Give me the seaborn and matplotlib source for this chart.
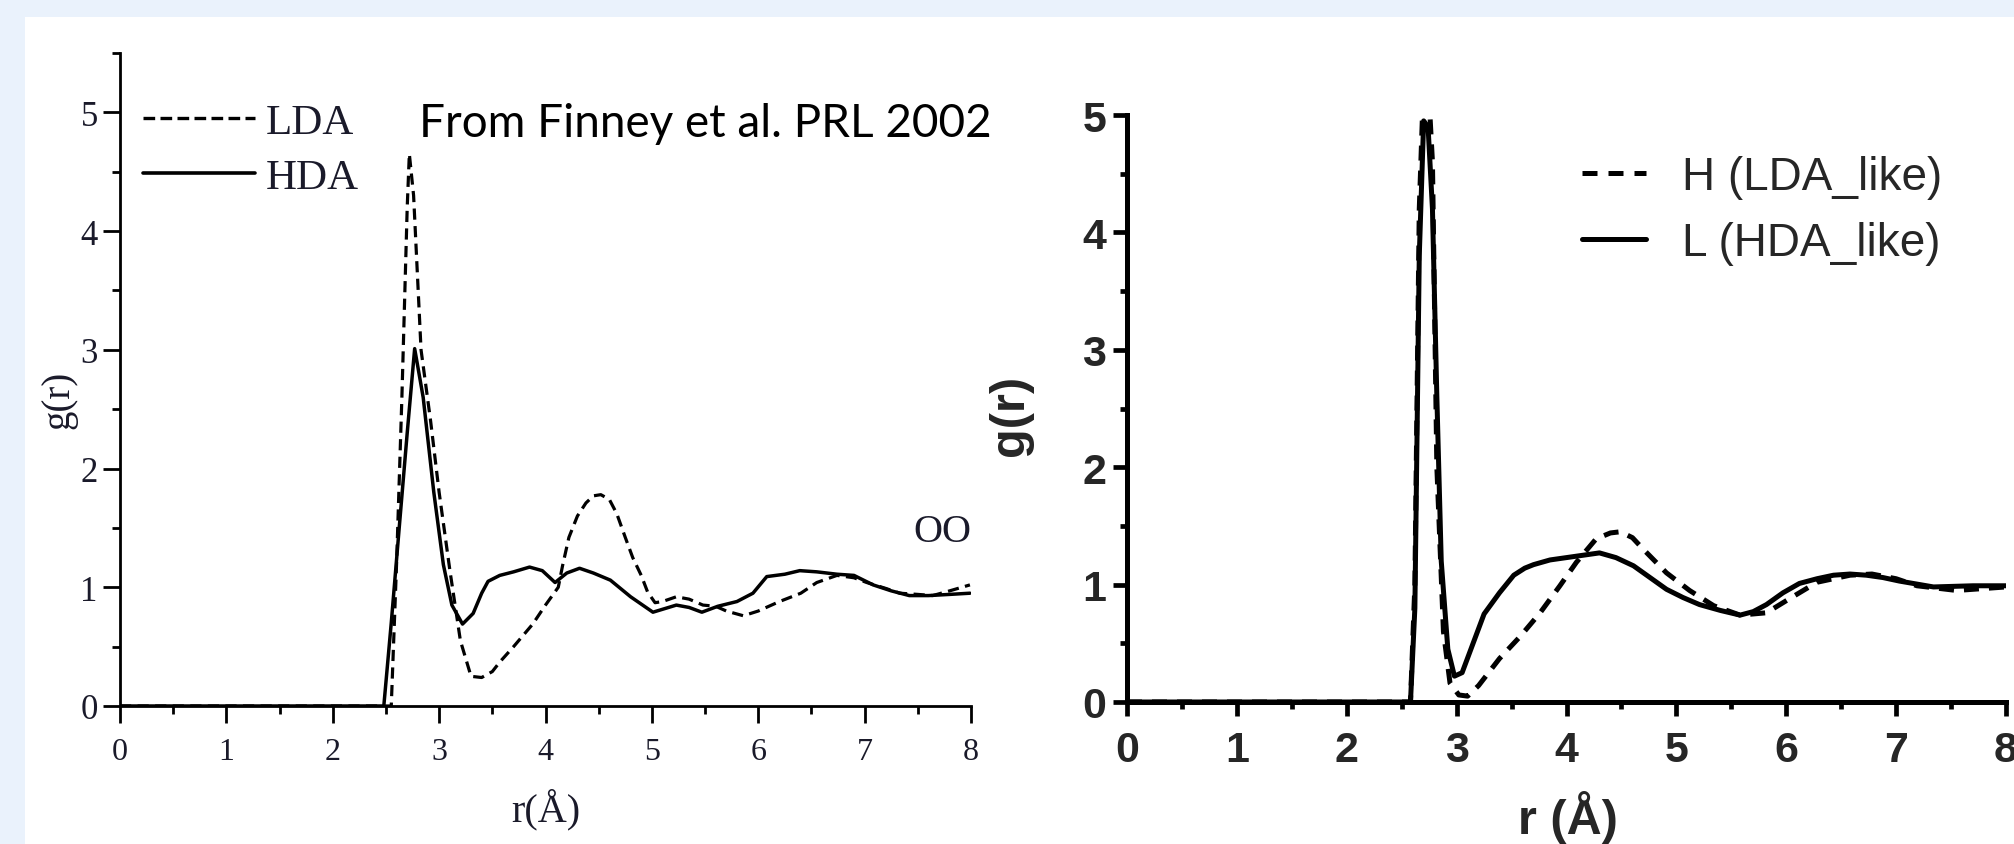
import numpy as np
import pandas as pd
import matplotlib
matplotlib.use("Agg")
import matplotlib.pyplot as plt
import seaborn as sns
from matplotlib.ticker import MultipleLocator
from matplotlib.lines import Line2D
from matplotlib.patches import Rectangle

# ---- Finney et al. (2002) O-O radial distribution functions ----
r_lda = [0, 2.55, 2.60, 2.65, 2.70, 2.72, 2.76, 2.83, 2.92, 3.00, 3.10, 3.20, 3.30,
         3.40, 3.50, 3.57, 3.70, 3.88, 4.00, 4.12, 4.16, 4.22, 4.30, 4.38, 4.45,
         4.52, 4.60, 4.67, 4.75, 4.82, 4.90, 4.96, 5.03, 5.10, 5.23, 5.35, 5.48,
         5.60, 5.70, 5.86, 6.00, 6.20, 6.40, 6.55, 6.74, 6.90, 7.02, 7.20, 7.33,
         7.50, 7.64, 7.80, 7.99]
g_lda = [0, 0, 1.2, 2.6, 4.2, 4.65, 4.3, 3.0, 2.4, 1.8, 1.15, 0.55, 0.25,
         0.24, 0.29, 0.37, 0.50, 0.69, 0.85, 1.00, 1.18, 1.42, 1.60, 1.71, 1.77,
         1.78, 1.74, 1.62, 1.42, 1.25, 1.10, 0.96, 0.87, 0.88, 0.92, 0.90, 0.85,
         0.84, 0.80, 0.76, 0.80, 0.88, 0.95, 1.04, 1.10, 1.08, 1.04, 0.99, 0.95,
         0.94, 0.93, 0.97, 1.02]

r_hda = [0, 2.48, 2.55, 2.62, 2.70, 2.77, 2.85, 2.95, 3.04, 3.12, 3.22, 3.32,
         3.40, 3.46, 3.57, 3.70, 3.85, 3.97, 4.09, 4.20, 4.32, 4.45, 4.61, 4.80,
         5.01, 5.12, 5.23, 5.35, 5.47, 5.62, 5.80, 5.95, 6.08, 6.25, 6.39, 6.55,
         6.74, 6.90, 7.08, 7.25, 7.42, 7.60, 7.80, 7.99]
g_hda = [0, 0, 0.7, 1.45, 2.3, 3.01, 2.6, 1.8, 1.19, 0.85, 0.69, 0.78,
         0.95, 1.05, 1.10, 1.13, 1.17, 1.14, 1.04, 1.12, 1.16, 1.12, 1.06, 0.92,
         0.79, 0.82, 0.85, 0.83, 0.79, 0.84, 0.88, 0.95, 1.09, 1.11, 1.14, 1.13,
         1.11, 1.10, 1.02, 0.97, 0.93, 0.93, 0.94, 0.95]

# ---- simulation: H (LDA-like) and L (HDA-like) ----
r_h = [0, 2.58, 2.62, 2.66, 2.70, 2.74, 2.78, 2.82, 2.88, 2.94, 3.02, 3.10,
       3.20, 3.39, 3.58, 3.76, 3.94, 4.09, 4.27, 4.40, 4.49, 4.60, 4.70, 4.91,
       5.12, 5.34, 5.58, 5.82, 6.03, 6.28, 6.58, 6.78, 7.00, 7.19, 7.55, 8.00]
g_h = [0, 0, 1.0, 4.2, 5.3, 5.3, 4.6, 2.0, 0.6, 0.16, 0.06, 0.05,
       0.14, 0.37, 0.56, 0.76, 0.99, 1.19, 1.39, 1.44, 1.45, 1.40, 1.30, 1.10,
       0.95, 0.82, 0.74, 0.76, 0.88, 1.02, 1.08, 1.09, 1.05, 0.99, 0.95, 0.98]

r_l = [0, 2.58, 2.62, 2.66, 2.70, 2.74, 2.78, 2.82, 2.86, 2.92, 2.98, 3.05,
       3.15, 3.25, 3.39, 3.52, 3.62, 3.70, 3.85, 4.00, 4.15, 4.30, 4.45, 4.61,
       4.76, 4.91, 5.06, 5.21, 5.40, 5.58, 5.70, 5.82, 5.97, 6.12, 6.28, 6.43,
       6.58, 6.73, 6.88, 7.03, 7.34, 7.70, 8.00]
g_l = [0, 0, 0.8, 3.8, 4.95, 4.9, 4.2, 2.6, 1.2, 0.45, 0.22, 0.25,
       0.50, 0.75, 0.93, 1.08, 1.14, 1.17, 1.21, 1.23, 1.25, 1.27, 1.23, 1.16,
       1.06, 0.96, 0.89, 0.83, 0.78, 0.74, 0.77, 0.83, 0.93, 1.01, 1.05, 1.08,
       1.09, 1.08, 1.06, 1.03, 0.98, 0.99, 0.99]

x_ticks = [0, 1, 2, 3, 4, 5, 6, 7, 8]

sns.set_style("white")
plt.rcParams["font.family"] = ["DejaVu Sans"]

W, H = 2014, 845
fig = plt.figure(figsize=(W / 100, H / 100), dpi=100, facecolor="#EAF2FC")
# white sheet behind both panels
fig.patches.append(Rectangle((25 / W, 0), 1 - 25 / W, 1 - 18 / H,
                             transform=fig.transFigure, facecolor="white",
                             edgecolor="none", zorder=-10))


def px_axes(x0, x1, ybot, ytop):
    ax = fig.add_axes([x0 / W, 1 - ybot / H, (x1 - x0) / W, (ybot - ytop) / H])
    ax.set_zorder(1)
    return ax


serif = "Liberation Serif"
sans = "Liberation Sans"
ink = "#1a1a2a"

# ================= left panel =================
axL = px_axes(120, 971, 707, 54)
axL.set_facecolor("none")
sns.lineplot(x=r_lda, y=g_lda, ax=axL, color="black", lw=2.3,
             linestyle=(0, (3.5, 2.0)), label="LDA", legend=False)
sns.lineplot(x=r_hda, y=g_hda, ax=axL, color="black", lw=2.5,
             label="HDA", legend=False)
axL.set_xlim(0, 8)
axL.set_ylim(0, 5.5)
axL.xaxis.set_major_locator(MultipleLocator(1))
axL.xaxis.set_minor_locator(MultipleLocator(0.5))
axL.yaxis.set_major_locator(MultipleLocator(1))
axL.yaxis.set_minor_locator(MultipleLocator(0.5))
for s in ["top", "right"]:
    axL.spines[s].set_visible(False)
for s in ["left", "bottom"]:
    axL.spines[s].set_linewidth(2.0)
    axL.spines[s].set_color("black")
axL.tick_params(which="major", direction="out", length=12, width=2.0,
                color="black", left=True, bottom=True)
axL.tick_params(which="minor", direction="out", length=6, width=2.0,
                color="black", left=True, bottom=True)
axL.tick_params(axis="x", which="major", pad=10, labelsize=23, labelcolor=ink)
axL.tick_params(axis="y", which="major", pad=4, labelsize=25, labelcolor=ink)
axL.set_xticks(x_ticks)
for lab in axL.get_xticklabels() + axL.get_yticklabels():
    lab.set_family(serif)
axL.set_xlabel("r(Å)", fontsize=29, family=serif, color=ink)
axL.xaxis.set_label_coords(0.5, -0.125)
axL.set_ylabel("g(r)", fontsize=28, family=serif, color=ink)
axL.yaxis.set_label_coords(-0.050, 0.47)

hL = [Line2D([], [], color="black", lw=2.4, linestyle=(0, (3.5, 1.6))),
      Line2D([], [], color="black", lw=2.6)]
axL.legend(hL, ["LDA", "HDA"], loc="center left", frameon=False,
           bbox_to_anchor=(143 / W, 1 - 151 / H), bbox_transform=fig.transFigure,
           prop={"family": serif, "size": 31}, handlelength=2.6,
           handletextpad=0.25, labelspacing=0.36, borderpad=0, borderaxespad=0,
           labelcolor=ink)
fig.text(419 / W, 1 - 124 / H, "From Finney et al. PRL 2002", fontsize=33,
         family="Lato", color="black", ha="left", va="center", zorder=5)
fig.text(971 / W, 1 - 533 / H, "OO", fontsize=29, family=serif, color=ink,
         ha="right", va="center", zorder=5)

# ================= right panel =================
axR = px_axes(1127, 2006, 703, 116)
axR.set_facecolor("none")
sns.lineplot(x=r_h, y=g_h, ax=axR, color="black", lw=3.6,
             linestyle=(0, (3.0, 2.0)), label="H (LDA_like)", legend=False)
sns.lineplot(x=r_l, y=g_l, ax=axR, color="black", lw=3.6,
             label="L (HDA_like)", legend=False)
axR.set_xlim(0, 8)
axR.set_ylim(0, 5)
axR.xaxis.set_major_locator(MultipleLocator(1))
axR.xaxis.set_minor_locator(MultipleLocator(0.5))
axR.yaxis.set_major_locator(MultipleLocator(1))
axR.yaxis.set_minor_locator(MultipleLocator(0.5))
for s in ["top", "right"]:
    axR.spines[s].set_visible(False)
for s in ["left", "bottom"]:
    axR.spines[s].set_linewidth(3.6)
    axR.spines[s].set_color("black")
axR.tick_params(which="major", direction="out", length=10, width=3.4,
                color="black", left=True, bottom=True)
axR.tick_params(which="minor", direction="out", length=5, width=3.4,
                color="black", left=True, bottom=True)
axR.tick_params(axis="x", which="major", pad=10, labelsize=31)
axR.tick_params(axis="y", which="major", pad=5, labelsize=31)
axR.set_xticks(x_ticks)
for lab in axR.get_xticklabels() + axR.get_yticklabels():
    lab.set_family(sans)
    lab.set_weight("bold")
axR.set_xlabel("r (Å)", fontsize=35, family=sans, weight="bold")
axR.xaxis.set_label_coords(0.502, -0.150)
axR.set_ylabel("g(r)", fontsize=35, family=sans, weight="bold")
axR.yaxis.set_label_coords(-0.107, 0.49)

hR = [Line2D([], [], color="black", lw=3.6, linestyle=(0, (3.0, 2.2))),
      Line2D([], [], color="black", lw=3.6)]
axR.legend(hR, ["H (LDA_like)", "L (HDA_like)"], loc="center left", frameon=False,
           bbox_to_anchor=(1582 / W, 1 - 211 / H), bbox_transform=fig.transFigure,
           prop={"family": sans, "size": 33}, handlelength=1.4,
           handletextpad=0.78, labelspacing=0.5, borderpad=0, borderaxespad=0)

fig.savefig("out.png", dpi=100, facecolor=fig.get_facecolor())
